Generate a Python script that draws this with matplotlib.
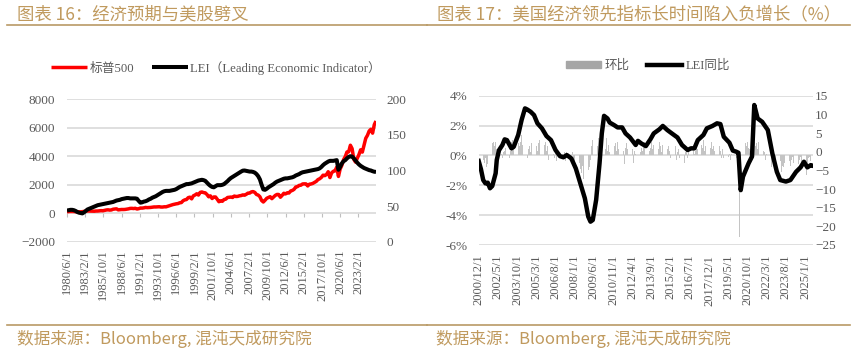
import numpy as np
import pandas as pd
import matplotlib
matplotlib.use("Agg")
import matplotlib.pyplot as plt
import matplotlib.patches as mpatches
from matplotlib.ticker import FuncFormatter

plt.rcParams['font.family'] = ['Liberation Serif', 'Noto Sans CJK SC', 'DejaVu Sans']

# ---------------- Data: chart 16 (quarterly, from 1980-06 to 2025-09) ----------------
left_xlabels = ["1980/6/1", "1983/2/1", "1985/10/1", "1988/6/1", "1991/2/1", "1993/10/1",
                "1996/6/1", "1999/2/1", "2001/10/1", "2004/6/1", "2007/2/1", "2009/10/1",
                "2012/6/1", "2015/2/1", "2017/10/1", "2020/6/1", "2023/2/1"]

sp500 = [114, 125, 136,
         136, 131, 116, 122,
         112, 110, 120, 141,
         153, 168, 166, 165,
         159, 153, 166, 167,
         181, 192, 182, 211,
         238, 251, 231, 242,
         292, 304, 321, 247,
         258, 273, 271, 277,
         294, 317, 349, 353,
         339, 358, 306, 330,
         375, 371, 387, 417,
         404, 408, 418, 436,
         451, 450, 459, 466,
         445, 444, 463, 459,
         500, 545, 584, 615,
         645, 670, 687, 741,
         757, 885, 947, 970,
         1102, 1134, 1017, 1229,
         1286, 1373, 1283, 1469,
         1499, 1455, 1437, 1320,
         1160, 1224, 1041, 1148,
         1147, 990, 815, 880,
         848, 975, 996, 1112,
         1126, 1141, 1115, 1212,
         1181, 1191, 1229, 1248,
         1295, 1270, 1336, 1418,
         1421, 1503, 1527, 1468,
         1323, 1280, 1166, 903,
         798, 919, 1057, 1115,
         1169, 1031, 1141, 1258,
         1326, 1321, 1131, 1258,
         1408, 1362, 1441, 1426,
         1569, 1606, 1682, 1848,
         1872, 1960, 1972, 2059,
         2068, 2063, 1920, 2044,
         2060, 2099, 2168, 2239,
         2363, 2423, 2519, 2674,
         2641, 2718, 2914, 2507,
         2834, 2942, 2977, 3231,
         2585, 3100, 3363, 3756,
         3973, 4298, 4308, 4766,
         4530, 3785, 3586, 3840,
         4109, 4450, 4288, 4770,
         5254, 5460, 5762, 5882,
         5612, 6205, 6460]

lei = [44, 44.5, 45,
       45, 44.5, 43.5, 42,
       41, 40.5, 40, 41.5,
       43.5, 45.5, 46.5, 47.5,
       48.5, 49.5, 50.5, 51.5,
       52, 52.5, 53, 53.5,
       54, 54.5, 55, 55.5,
       56, 57, 58, 58.5,
       59, 60, 60.5, 61,
       61.5, 61.5, 61, 61,
       61, 61, 60.5, 57.5,
       55, 55.5, 56.5, 57,
       58, 59.5, 60.5, 62,
       63, 64, 65.5, 67,
       68.5, 70, 71, 71.5,
       71.5, 71.5, 72, 72.5,
       73, 74, 75.5, 77,
       78, 79, 80, 81,
       81, 81.5, 82, 83,
       84, 85, 86, 86.5,
       87, 86.5, 85.5, 83,
       80.5, 78.5, 77, 76.5,
       78, 79.5, 79.5, 79.5,
       80, 81, 83, 85,
       87.5, 89.5, 91, 92.5,
       94, 95.5, 97, 98.5,
       99.8, 100, 99.5, 99,
       98.5, 98.5, 98, 97,
       95, 92, 87.5, 80,
       73.5, 73, 74.5, 76.5,
       78, 79.5, 81, 83,
       84.5, 85.5, 86.5, 87.5,
       88.5, 89, 89, 89.5,
       90, 90.5, 91.5, 93,
       94, 95, 96.5, 97.5,
       98, 98.5, 99, 99.5,
       100, 100.5, 101, 101.5,
       102, 103, 105, 107.5,
       109.5, 111, 112.5, 113.5,
       113.5, 113.5, 114, 114.5,
       101, 105, 110, 113,
       114.5, 117, 119, 120,
       119.5, 117, 114, 111,
       108.5, 106.5, 105, 103.5,
       102.5, 101.5, 100.5, 100,
       99, 98.3, 98]

# ---------------- Data: chart 17 ----------------
right_xlabels = ["2000/12/1", "2002/5/1", "2003/10/1", "2005/3/1", "2006/8/1", "2008/1/1",
                 "2009/6/1", "2010/11/1", "2012/4/1", "2013/9/1", "2015/2/1", "2016/7/1",
                 "2017/12/1", "2019/5/1", "2020/10/1", "2022/3/1", "2023/8/1", "2025/1/1"]

# monthly % change of LEI (环比), 2000-12 ... 2025-08
mom = ([-0.6] +
       [-0.4, -0.9, -1.2, -0.3, -0.5, -0.2, -0.8, -0.6, -1.3, 0.2, 0.5, 0.8] +
       [0.9, 0.6, 0.9, 0.4, 0.5, -0.2, -0.3, 0.1, -0.2, 0.2, 0.3, 0.5] +
       [0.2, -0.3, -0.2, 0.3, 0.9, 1.0, 0.7, 1.1, 0.6, 1.3, 0.8, 0.6] +
       [0.9, 1.4, 0.7, 1.0, 0.5, 0.3, -0.2, 0.4, 0.6, 0.2, 0.8, 0.5] +
       [1.2, -0.1, 0.6, 0.3, 0.8, 1.0, 0.2, 0.5, -0.2, 0.7, 0.9, 0.3] +
       [0.6, -0.3, 0.1, -0.4, 0.2, 0.1, -0.2, 0.3, -0.4, 0.2, 0.1, 0.3] +
       [-0.3, 0.1, -0.2, 0.2, -0.4, 0.2, -0.3, 0.1, -0.5, -0.4, 0.2, -0.3] +
       [-0.6, -0.4, -0.2, -0.8, -0.5, -0.9, -1.2, -0.7, -1.6, -2.0, -2.6, -1.4] +
       [-1.0, -0.8, -0.3, 0.6, 1.0, 0.7, 0.9, 1.1, 0.6, 1.2, 0.8, 1.0] +
       [0.6, 1.3, 1.0, 0.4, 1.2, 0.3, 0.7, 0.2, 0.9, 0.5, 1.0, 0.6] +
       [0.8, 0.3, 0.9, 0.4, 0.6, -0.2, 0.7, 0.3, -0.6, 0.5, 0.8, 0.4] +
       [0.3, 0.6, -0.2, 0.4, -0.5, 0.3, 0.1, 0.5, -0.3, 0.4, 0.2, 0.5] +
       [0.3, 0.7, 0.9, 0.2, 0.6, 0.8, 0.3, 0.5, 0.9, 0.4, 0.7, 0.3] +
       [0.5, 0.8, 0.4, 0.9, 0.6, 0.2, 0.7, 0.5, 0.3, 0.8, 0.4, 0.6] +
       [0.3, -0.2, 0.4, 0.5, 0.1, 0.6, -0.3, 0.2, 0.4, -0.2, 0.3, 0.1] +
       [-0.3, -0.5, 0.2, 0.4, -0.2, 0.3, 0.5, -0.3, 0.2, 0.4, 0.1, 0.3] +
       [0.6, 0.4, 0.9, 0.3, 0.7, 0.5, 1.0, 0.3, 0.6, 0.8, 0.4, 0.7] +
       [0.5, 0.9, 0.4, 0.6, 0.3, 0.8, 0.5, 0.2, 0.6, 0.3, -0.2, 0.4] +
       [-0.2, 0.1, -0.3, 0.2, -0.1, 0.1, -0.3, 0.1, -0.2, -0.1, 0.1, -0.2] +
       [0.1, -0.2, -5.45, -2.2, 2.15, 1.7, 0.9, 0.8, 0.6, 0.9, 0.5, 0.4] +
       [0.6, 0.8, 0.5, 0.9, 0.6, 0.8, 0.4, 0.9, 0.6, 0.7, 0.4, 0.3] +
       [0.2, -0.3, 0.1, -0.5, -0.7, -0.3, -0.8, -0.4, -0.6, -0.9, -0.5, -1.0] +
       [-0.6, -0.9, -0.4, -1.1, -0.7, -0.8, -0.5, -0.9, -0.6, -0.8, -0.4, -0.7] +
       [-0.3, -0.1, -0.5, -0.7, -0.2, -0.4, -0.6, -0.3, -0.1, -0.5, 0.3, -0.2] +
       [-0.3, -1.3, -0.9, -0.2, -0.1, -0.4, -0.5, -0.3])

# LEI YoY (同比) read points
yoy_dates = ["2000-12", "2001-02", "2001-04", "2001-06", "2001-08", "2001-10", "2001-12",
             "2002-03", "2002-04", "2002-06", "2002-09", "2002-11", "2003-01", "2003-05",
             "2003-07", "2003-11", "2004-02", "2004-05", "2004-07", "2004-10", "2005-01",
             "2005-04", "2005-08", "2005-12", "2006-04", "2006-08", "2006-12", "2007-03",
             "2007-06", "2007-10", "2008-02", "2008-06", "2008-10", "2009-01", "2009-03",
             "2009-05", "2009-08", "2009-11", "2010-01", "2010-03", "2010-06", "2010-08",
             "2010-12", "2011-03", "2011-07", "2011-10", "2012-02", "2012-07", "2012-09",
             "2012-12", "2013-04", "2013-08", "2013-11", "2014-04", "2014-07", "2014-11",
             "2015-03", "2015-08", "2015-12", "2016-05", "2016-08", "2016-11", "2017-02",
             "2017-07", "2017-10", "2018-03", "2018-07", "2018-10", "2019-01", "2019-06",
             "2019-09", "2019-12", "2020-02", "2020-04", "2020-06", "2020-11", "2021-02",
             "2021-04", "2021-07", "2021-11", "2022-04", "2022-08", "2022-12", "2023-03",
             "2023-08", "2023-12", "2024-05", "2024-09", "2024-12", "2025-03", "2025-06",
             "2025-08"]
yoy = [-2.5, -4.7, -7.6, -8.5, -8.3, -9.8, -9.2,
       -5.8, -2.2, 0.4, 1.8, 3.3, 3.1, 0.9,
       1.3, 4.5, 8.5, 11.6, 11.3, 10.7, 9.8,
       7.6, 6.25, 4.2, 3.1, 0.45, -1.2, -1.5,
       -0.9, -1.8, -4.5, -8.5, -12.5, -17.4, -18.75,
       -18.3, -12.9, -3.1, 4.9, 9.6, 8.9, 7.8,
       7.1, 6.5, 6.5, 4.9, 3.8, 1.8, 2.9,
       2.2, 1.5, 3.3, 4.9, 6.0, 6.9, 5.8,
       4.9, 3.8, 1.8, 0.45, 0.9, 0.9, 3.1,
       4.5, 6.25, 6.9, 7.6, 7.4, 4.0, 2.4,
       0.3, 0.0, -0.3, -10.3, -6.7, -3.1, -1.3,
       12.5, 8.9, 8.0, 5.8, -0.45, -5.4, -7.6,
       -8.0, -7.6, -5.4, -4.2, -2.7, -4.2, -3.6,
       -3.8]

# ---------------- Styling ----------------
W, H = 854, 352
GOLD = '#C09A5E'
LINEGOLD = '#B99A66'
TXT = '#595959'
GRID = '#D9D9D9'

fig = plt.figure(figsize=(W / 100, H / 100), dpi=100)


def fx(x):
    return x / W


def fy(y):
    return 1 - y / H


# header / footer
for x0, x1 in [(7, 427), (427, 850)]:
    fig.add_artist(plt.Line2D([fx(x0), fx(x1)], [fy(25), fy(25)], color=LINEGOLD, lw=1.2))
    fig.add_artist(plt.Line2D([fx(x0), fx(x1)], [fy(325), fy(325)], color=LINEGOLD, lw=1.2))
fig.text(fx(17), fy(14), "图表 16：经济预期与美股劈叉", color=GOLD, fontsize=12.5,
         family='Noto Sans CJK SC', va='center', ha='left')
fig.text(fx(437), fy(14), "图表 17：美国经济领先指标长时间陷入负增长（%）", color=GOLD, fontsize=12.5,
         family='Noto Sans CJK SC', va='center', ha='left')
fig.text(fx(17), fy(339), "数据来源：Bloomberg, 混沌天成研究院", color=GOLD, fontsize=12,
         family='Noto Sans CJK SC', va='center', ha='left')
fig.text(fx(436), fy(339), "数据来源：Bloomberg, 混沌天成研究院", color=GOLD, fontsize=12,
         family='Noto Sans CJK SC', va='center', ha='left')

# ---------------- Left chart ----------------
ax = fig.add_axes([fx(67), fy(242), fx(376) - fx(67), fy(99) - fy(242)])
ax2 = ax.twinx()
x_left = np.arange(len(sp500)) * 3
l1, = ax.plot(x_left, sp500, color='#FF0000', lw=2.5, solid_capstyle='butt', label='标普500')
l2, = ax2.plot(x_left, lei, color='black', lw=2.9, solid_capstyle='butt',
               label='LEI（Leading Economic Indicator）')
ax.set_ylim(-2000, 8000)
ax.set_yticks(np.arange(-2000, 8001, 2000))
ax2.set_ylim(0, 200)
ax2.set_yticks(np.arange(0, 201, 50))
ax.set_xlim(0, 543)
tick_left = np.arange(len(left_xlabels)) * 32
ax.set_xticks(tick_left)
ax.set_xticklabels(left_xlabels, rotation=90)
ax.grid(axis='y', color=GRID, lw=1.2)
ax.set_axisbelow(True)
for a in (ax, ax2):
    for s in a.spines.values():
        s.set_visible(False)
ax.tick_params(axis='x', length=0, pad=5.5, labelsize=9, labelcolor=TXT)
ax.tick_params(axis='y', length=0, pad=8.5, labelsize=9.5, labelcolor=TXT)
ax2.tick_params(axis='y', length=0, pad=7.5, labelsize=9.5, labelcolor=TXT)
sec = ax.secondary_xaxis(0.2)
sec.set_xticks(tick_left)
sec.tick_params(length=3, color='#BFBFBF', labelbottom=False, width=0.8)
sec.spines['bottom'].set_visible(False)
fig.legend(handles=[l1, l2], loc='center', bbox_to_anchor=(fx(216), fy(68)),
           ncol=2, frameon=False, fontsize=9.2, handlelength=2.8, handletextpad=0.2,
           columnspacing=1.4, labelcolor=TXT)

# ---------------- Right chart ----------------
bx = fig.add_axes([fx(478.7), fy(245), fx(813) - fx(478.7), fy(95.7) - fy(245)])
bx2 = bx.twinx()
x_mom = np.arange(len(mom))
bx.bar(x_mom, np.array(mom) / 100, width=0.55, color='#C4C4C4', linewidth=0, label='环比')
yoy_idx = [(pd.Period(d, 'M') - pd.Period('2000-12', 'M')).n for d in yoy_dates]
l3, = bx2.plot(yoy_idx, yoy, color='black', lw=3.2, label='LEI同比')
bx.set_ylim(-0.06, 0.04)
bx.set_yticks(np.arange(-0.06, 0.041, 0.02))
bx.yaxis.set_major_formatter(FuncFormatter(lambda v, p: f"{v * 100:.0f}%"))
bx2.set_ylim(-25, 15)
bx2.set_yticks(np.arange(-25, 16, 5))
bx.set_xlim(0, 296)
tick_right = np.arange(len(right_xlabels)) * 17
bx.set_xticks(tick_right)
bx.set_xticklabels(right_xlabels, rotation=90)
bx.grid(axis='y', color=GRID, lw=1.2)
bx.set_axisbelow(True)
for a in (bx, bx2):
    for s in a.spines.values():
        s.set_visible(False)
bx.tick_params(axis='x', length=0, pad=7, labelsize=9, labelcolor=TXT)
bx.tick_params(axis='y', length=0, pad=8, labelsize=9.5, labelcolor=TXT)
bx2.tick_params(axis='y', length=0, pad=1.5, labelsize=9.5, labelcolor=TXT)
p_mom = mpatches.Patch(color='#A6A6A6', label='环比')
fig.legend(handles=[p_mom, l3], loc='center', bbox_to_anchor=(fx(648), fy(66)),
           ncol=2, frameon=False, fontsize=9, handlelength=2.8, handletextpad=0.3,
           columnspacing=1.4, labelcolor=TXT, handleheight=0.5)

fig.savefig('out.png', dpi=100)
